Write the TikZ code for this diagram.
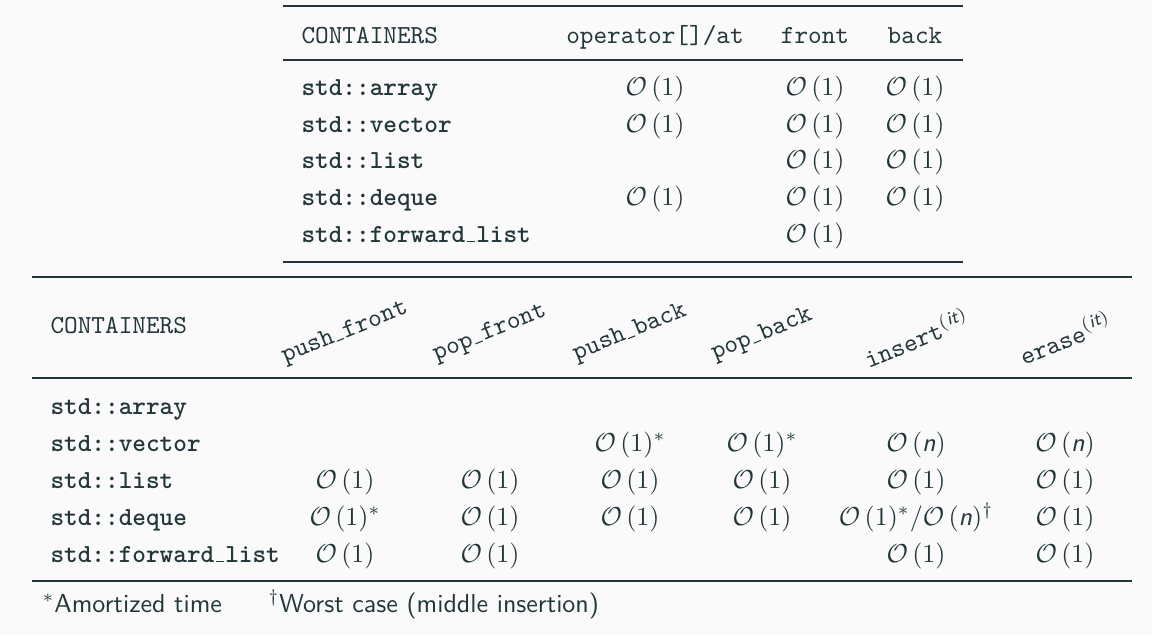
\documentclass[tikz,border=0pt]{standalone}
\usepackage{fontspec}
\usepackage{amsmath}
\usepackage{amssymb}
\usepackage{xcolor}
\usepackage{tikz}
\usetikzlibrary{positioning,calc}
\definecolor{mdarkteal}{HTML}{23373B}
\definecolor{mbackground}{HTML}{FAFAFA}
\newcommand{\cplx}[1]{$\mathcal{O}\left(#1\right)$}
\newcommand{\nvar}{\textsf{\itshape n}}
\newcommand{\itvar}{$^{(\textsf{\itshape it})}$}
\newcommand{\usc}{\kern.06em\vbox{\hrule width.3em}\kern.06em}
\tikzset{
    header/.style={anchor=base west, inner sep=0pt, font=\ttfamily},
    colhead/.style={anchor=base, inner sep=0pt, font=\ttfamily},
    rothead/.style={anchor=center, rotate=22, inner sep=0pt, font=\ttfamily},
    rowlabel/.style={anchor=base west, inner sep=0pt, font=\ttfamily\bfseries},
    cell/.style={anchor=base, inner sep=0pt},
    note/.style={anchor=base west, inner sep=0pt, font=\sffamily},
    heavyrule/.style={draw=mdarkteal, line width=0.8pt},
    lightrule/.style={draw=mdarkteal, line width=0.5pt}
}

\begin{document}
\begin{tikzpicture}[x=0.3846pt, y=-0.3846pt, color=mdarkteal]
    \useasboundingbox (0,0) rectangle (1152,635);
    \fill[mbackground] (0,0) rectangle (1152,635);

    % Access table
    \draw[heavyrule] (283,6) -- (963,6);
    \node [header] (tcont) at (301,43) {CONTAINERS};
    \node [colhead] (tat) at (655,43) {operator[]/at};
    \node [colhead] (tfront) at (815,43) {front};
    \node [colhead] (tback) at (915,43) {back};
    \draw[lightrule] (283,60) -- (963,60);

    \node [rowlabel] (tarray) at (301,95) {std::array};
    \node [cell] (tarrayat) at (655,95) {\cplx{1}};
    \node [cell] (tarrayfront) at (815,95) {\cplx{1}};
    \node [cell] (tarrayback) at (915,95) {\cplx{1}};

    \node [rowlabel] (tvector) at (301,132) {std::vector};
    \node [cell] (tvectorat) at (655,132) {\cplx{1}};
    \node [cell] (tvectorfront) at (815,132) {\cplx{1}};
    \node [cell] (tvectorback) at (915,132) {\cplx{1}};

    \node [rowlabel] (tlist) at (301,168.5) {std::list};
    \node [cell] (tlistfront) at (815,168.5) {\cplx{1}};
    \node [cell] (tlistback) at (915,168.5) {\cplx{1}};

    \node [rowlabel] (tdeque) at (301,205) {std::deque};
    \node [cell] (tdequeat) at (655,205) {\cplx{1}};
    \node [cell] (tdequefront) at (815,205) {\cplx{1}};
    \node [cell] (tdequeback) at (915,205) {\cplx{1}};

    \node [rowlabel] (tfwd) at (301,242) {std::forward\usc list};
    \node [cell] (tfwdfront) at (815,242) {\cplx{1}};
    \draw[heavyrule] (283,262) -- (963,262);

    % Modifier table
    \draw[heavyrule] (32,277) -- (1132,277);
    \node [header] (bcont) at (50,333) {CONTAINERS};
    \node [rothead] (bpushf) at (345,333) {push\usc front};
    \node [rothead] (bpopf) at (490,333) {pop\usc front};
    \node [rothead] (bpushb) at (630,333) {push\usc back};
    \node [rothead] (bpopb) at (762,335) {pop\usc back};
    \node [rothead] (binsert) at (916,337) {insert\itvar};
    \node [rothead] (berase) at (1065,337) {erase\itvar};
    \draw[lightrule] (32,378) -- (1132,378);

    \node [rowlabel] (barray) at (50,414) {std::array};

    \node [rowlabel] (bvector) at (50,451) {std::vector};
    \node [cell] (bvectorpushb) at (630,451) {\cplx{1}$^{*}$};
    \node [cell] (bvectorpopb) at (762,451) {\cplx{1}$^{*}$};
    \node [cell] (bvectorinsert) at (916,451) {\cplx{\nvar}};
    \node [cell] (bvectorerase) at (1065,451) {\cplx{\nvar}};

    \node [rowlabel] (blist) at (50,488) {std::list};
    \node [cell] (blistpushf) at (345,488) {\cplx{1}};
    \node [cell] (blistpopf) at (490,488) {\cplx{1}};
    \node [cell] (blistpushb) at (630,488) {\cplx{1}};
    \node [cell] (blistpopb) at (762,488) {\cplx{1}};
    \node [cell] (blistinsert) at (916,488) {\cplx{1}};
    \node [cell] (blisterase) at (1065,488) {\cplx{1}};

    \node [rowlabel] (bdeque) at (50,525) {std::deque};
    \node [cell] (bdequepushf) at (345,525) {\cplx{1}$^{*}$};
    \node [cell] (bdequepopf) at (490,525) {\cplx{1}};
    \node [cell] (bdequepushb) at (630,525) {\cplx{1}};
    \node [cell] (bdequepopb) at (762,525) {\cplx{1}};
    \node [cell] (bdequeinsert) at (916,525) {\cplx{1}$^{*}$\textsf{/}\cplx{\nvar}$^{\dagger}$};
    \node [cell] (bdequeerase) at (1065,525) {\cplx{1}};

    \node [rowlabel] (bfwd) at (50,562) {std::forward\usc list};
    \node [cell] (bfwdpushf) at (345,562) {\cplx{1}};
    \node [cell] (bfwdpopf) at (490,562) {\cplx{1}};
    \node [cell] (bfwdinsert) at (916,562) {\cplx{1}};
    \node [cell] (bfwderase) at (1065,562) {\cplx{1}};
    \draw[heavyrule] (32,581) -- (1132,581);

    % Footnotes
    \node [note] (namort) at (42,612) {$^{*}$Amortized time};
    \node [note] (nworst) at (268,612) {$^{\dagger}$Worst case (middle insertion)};
\end{tikzpicture}
\end{document}
